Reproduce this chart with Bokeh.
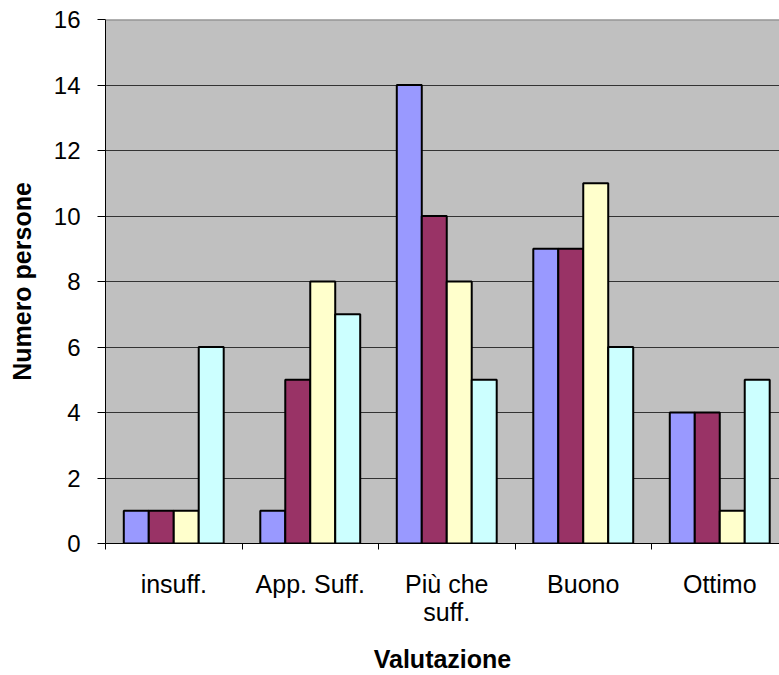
from bokeh.plotting import figure
from bokeh.models import Range1d, FixedTicker, Span
from bokeh.embed import file_html
from bokeh.resources import INLINE

categories = ["insuff.", "App. Suff.", "Più che\nsuff.", "Buono", "Ottimo"]
series1 = [1, 1, 14, 9, 4]
series2 = [1, 5, 10, 9, 4]
series3 = [1, 8, 8, 11, 1]
series4 = [6, 7, 5, 6, 5]
series_colors = ["#9999FF", "#993366", "#FFFFCC", "#CCFFFF"]
y_ticks = [0, 2, 4, 6, 8, 10, 12, 14, 16]

FONT = "Liberation Sans"
bar_w = 0.183

W, H = 779, 675
left, top, bottom = 105, 19, 130
frame_w = W - left
p = figure(width=W, height=H, output_backend="svg", toolbar_location=None,
           x_range=Range1d(0, frame_w / 136.5), y_range=Range1d(0, 16))
p.min_border_left = left
p.min_border_top = top
p.min_border_right = 0
p.min_border_bottom = bottom
p.background_fill_color = "#C0C0C0"
p.border_fill_color = "white"
p.outline_line_alpha = 0

all_series = [series1, series2, series3, series4]
for j, (vals, col) in enumerate(zip(all_series, series_colors)):
    xs = [i + 0.5 + (j - 1.5) * bar_w for i in range(len(categories))]
    p.vbar(x=xs, top=vals, bottom=0, width=bar_w, fill_color=col,
           line_color="black", line_width=2)

# x axis
centers = [i + 0.5 for i in range(len(categories))]
p.xaxis.ticker = FixedTicker(ticks=centers, minor_ticks=list(range(len(categories) + 1)))
p.xaxis.major_label_overrides = {c: lab for c, lab in zip(centers, categories)}
p.xaxis.major_tick_in = 0
p.xaxis.major_tick_out = 0
p.xaxis.minor_tick_in = 0
p.xaxis.minor_tick_out = 6
p.xaxis.minor_tick_line_color = "black"
p.xaxis.axis_line_color = "black"
p.xaxis.major_label_text_font = FONT
p.xaxis.major_label_text_font_size = "25px"
p.xaxis.major_label_text_line_height = 1.0
p.xaxis.major_label_text_color = "black"
p.xaxis.major_label_standoff = 20
p.xaxis.axis_label = "Valutazione"
p.xaxis.axis_label_text_font = FONT
p.xaxis.axis_label_text_font_style = "bold"
p.xaxis.axis_label_text_font_size = "25px"
p.xaxis.axis_label_text_color = "black"
p.xaxis.axis_label_standoff = 16

# y axis
p.yaxis.ticker = FixedTicker(ticks=y_ticks)
p.yaxis.major_tick_in = 0
p.yaxis.major_tick_out = 8
p.yaxis.minor_tick_line_alpha = 0
p.yaxis.axis_line_color = "black"
p.yaxis.major_label_text_font = FONT
p.yaxis.major_label_text_font_size = "24px"
p.yaxis.major_label_text_color = "black"
p.yaxis.major_label_standoff = 17
p.yaxis.axis_label = "Numero persone"
p.yaxis.axis_label_text_font = FONT
p.yaxis.axis_label_text_font_style = "bold"
p.yaxis.axis_label_text_font_size = "25px"
p.yaxis.axis_label_text_color = "black"
p.yaxis.axis_label_standoff = 15

p.xgrid.grid_line_alpha = 0
p.ygrid.ticker = FixedTicker(ticks=y_ticks[1:-1])
p.ygrid.grid_line_color = "#333333"
p.ygrid.grid_line_width = 1

p.add_layout(Span(location=16, dimension="width", line_color="#808080", line_width=2))

open("out.html", "w").write(file_html(p, INLINE))
